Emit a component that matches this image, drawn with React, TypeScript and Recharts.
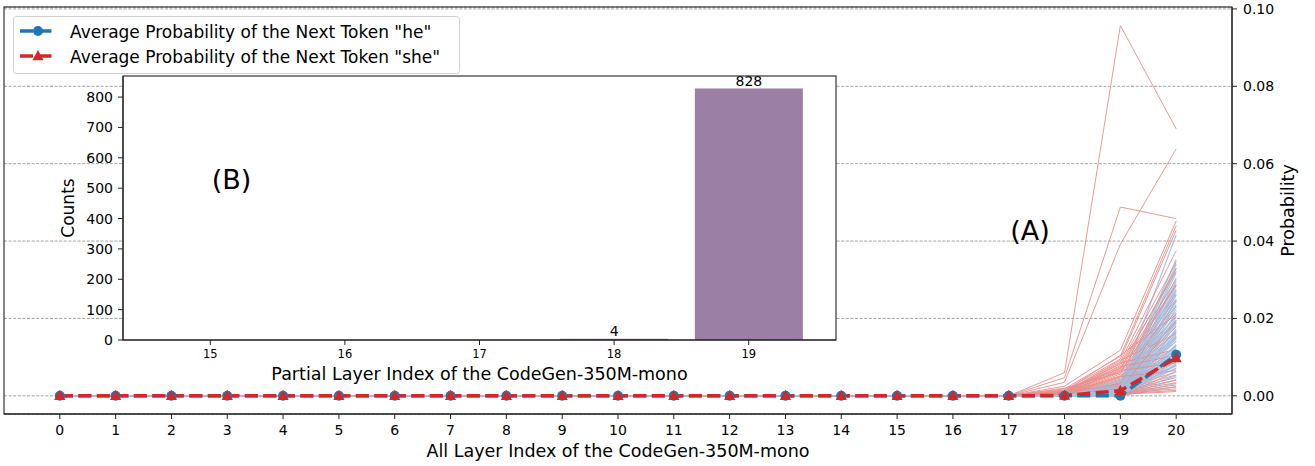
import React from 'react';
import { LineChart, Line, XAxis, YAxis, CartesianGrid, BarChart, Bar, LabelList } from 'recharts';

// ---------- data ----------
const layers = [0, 1, 2, 3, 4, 5, 6, 7, 8, 9, 10, 11, 12, 13, 14, 15, 16, 17, 18, 19, 20];
const heAverage = [0, 0, 0, 0, 0, 0, 0, 0, 0, 0, 0, 0, 0, 0, 0, 0, 0, 0, 0, 0.0000, 0.0106];
const sheAverage = [0, 0, 0, 0, 0, 0, 0, 0, 0, 0, 0, 0, 0, 0, 0, 0, 0, 0, 0.0001, 0.0013, 0.0098];
const probTicks = [0, 0.02, 0.04, 0.06, 0.08, 0.1];

// individual samples: values at layers 17, 18, 19, 20 (zero before layer 17)
const sampleStartLayer = 17;
const sheSamples: number[][] = [
  [0, 0.0060, 0.0957, 0.0690],
  [0, 0.0047, 0.0488, 0.0458],
  [0, 0.0035, 0.0392, 0.0638],
  [0, 0.0025, 0.0118, 0.0452],
  [0, 0.0018, 0.0102, 0.0440],
  [0, 0.0014, 0.0095, 0.0428],
  [0, 0.0011, 0.0088, 0.0375],
  [0, 0.0010, 0.0082, 0.0345],
  [0, 0.0009, 0.0078, 0.0322],
  [0, 0.0008, 0.0072, 0.0300],
  [0, 0.0007, 0.0068, 0.0288],
  [0, 0.0006, 0.0064, 0.0265],
  [0, 0.0006, 0.0060, 0.0250],
  [0, 0.0005, 0.0056, 0.0232],
  [0, 0.0005, 0.0052, 0.0218],
  [0, 0.0004, 0.0049, 0.0205],
  [0, 0.0004, 0.0046, 0.0190],
  [0, 0.0004, 0.0043, 0.0178],
  [0, 0.0003, 0.0040, 0.0165],
  [0, 0.0003, 0.0037, 0.0152],
  [0, 0.0003, 0.0034, 0.0140],
  [0, 0.0003, 0.0031, 0.0128],
  [0, 0.0002, 0.0029, 0.0118],
  [0, 0.0002, 0.0027, 0.0108],
  [0, 0.0002, 0.0025, 0.0098],
  [0, 0.0002, 0.0022, 0.0088],
  [0, 0.0002, 0.0020, 0.0078],
  [0, 0.0001, 0.0018, 0.0070],
  [0, 0.0001, 0.0016, 0.0062],
  [0, 0.0001, 0.0014, 0.0054],
  [0, 0.0001, 0.0012, 0.0047],
  [0, 0.0001, 0.0011, 0.0040],
  [0, 0.0001, 0.0009, 0.0034],
  [0, 0.0001, 0.0008, 0.0028],
  [0, 0.0001, 0.0007, 0.0023],
  [0, 0.0000, 0.0006, 0.0018],
  [0, 0.0000, 0.0005, 0.0014],
  [0, 0.0000, 0.0004, 0.0011],
  [0, 0.0012, 0.0105, 0.0210],
  [0, 0.0009, 0.0092, 0.0160],
  [0, 0.0008, 0.0085, 0.0120],
  [0, 0.0015, 0.0070, 0.0330],
  [0, 0.0020, 0.0060, 0.0285],
  [0, 0.0006, 0.0032, 0.0245],
  [0, 0.0004, 0.0018, 0.0195],
  [0, 0.0010, 0.0075, 0.0105],
  [0, 0.0007, 0.0065, 0.0085],
  [0, 0.0005, 0.0050, 0.0065],
];
const heSamples: number[][] = [
  [0, 0, 0.0030, 0.0416],
  [0, 0, 0.0025, 0.0352],
  [0, 0, 0.0020, 0.0340],
  [0, 0, 0.0008, 0.0330],
  [0, 0, 0.0015, 0.0318],
  [0, 0, 0.0005, 0.0305],
  [0, 0, 0.0012, 0.0295],
  [0, 0, 0.0003, 0.0285],
  [0, 0, 0.0010, 0.0272],
  [0, 0, 0.0002, 0.0260],
  [0, 0, 0.0007, 0.0248],
  [0, 0, 0.0001, 0.0236],
  [0, 0, 0.0004, 0.0225],
  [0, 0, 0.0001, 0.0214],
  [0, 0, 0.0006, 0.0203],
  [0, 0, 0.0002, 0.0192],
  [0, 0, 0.0001, 0.0182],
  [0, 0, 0.0003, 0.0172],
  [0, 0, 0.0001, 0.0162],
  [0, 0, 0.0002, 0.0152],
  [0, 0, 0.0001, 0.0142],
  [0, 0, 0.0000, 0.0132],
  [0, 0, 0.0002, 0.0122],
  [0, 0, 0.0001, 0.0112],
  [0, 0, 0.0000, 0.0102],
  [0, 0, 0.0001, 0.0092],
  [0, 0, 0.0000, 0.0082],
  [0, 0, 0.0001, 0.0072],
  [0, 0, 0.0000, 0.0062],
  [0, 0, 0.0000, 0.0052],
  [0, 0, 0.0000, 0.0042],
  [0, 0, 0.0000, 0.0032],
  [0, 0, 0.0000, 0.0024],
  [0, 0, 0.0040, 0.0275],
  [0, 0, 0.0035, 0.0195],
  [0, 0, 0.0022, 0.0232],
  [0, 0, 0.0018, 0.0210],
  [0, 0, 0.0013, 0.0188],
  [0, 0, 0.0009, 0.0168],
  [0, 0, 0.0006, 0.0148],
  [0, 0, 0.0004, 0.0128],
  [0, 0, 0.0002, 0.0108],
  [0, 0, 0.0001, 0.0088],
  [0, 0, 0.0028, 0.0262],
  [0, 0, 0.0016, 0.0244],
  [0, 0, 0.0011, 0.0156],
  [0, 0, 0.0005, 0.0118],
  [0, 0, 0.0003, 0.0078],
];

const partialLayers = ['15', '16', '17', '18', '19'];
const layerCounts = [0, 0, 0, 4, 828];
const countTicks = [0, 100, 200, 300, 400, 500, 600, 700, 800];

// ---------- derived tables ----------
const lineData = layers.map((layer, i) => {
  const row: Record<string, number> = { layer, he: heAverage[i], she: sheAverage[i] };
  sheSamples.forEach((s, k) => {
    row['r' + k] = i < sampleStartLayer ? 0 : s[i - sampleStartLayer];
  });
  heSamples.forEach((s, k) => {
    row['b' + k] = i < sampleStartLayer ? 0 : s[i - sampleStartLayer];
  });
  return row;
});
const barData = partialLayers.map((layer, i) => ({ layer, count: layerCounts[i] }));

const sampleKeys: { key: string; color: string; width: number }[] = [];
for (let k = 0; k < Math.max(sheSamples.length, heSamples.length); k++) {
  if (k < sheSamples.length) sampleKeys.push({ key: 'r' + k, color: '#e88e8c', width: 1 });
  if (k < heSamples.length) sampleKeys.push({ key: 'b' + k, color: '#9ec1e6', width: 1.3 });
}

const BLUE = '#1f77b4';
const RED = '#d62728';
const FONT = 'DejaVu Sans, Verdana, sans-serif';
const AXIS = '#222';
const probDomain: [number, number] = [-0.0047, 0.1005];
const countDomain: [number, number] = [0, 869.4];

const TriangleDot = (props: any) => {
  const { cx, cy } = props;
  if (cx == null || cy == null) return null;
  return (
    <path
      d={`M${cx},${cy - 6}L${cx + 5.6},${cy + 4.3}L${cx - 5.6},${cy + 4.3}Z`}
      fill={RED}
    />
  );
};

const CircleDot = (props: any) => {
  const { cx, cy } = props;
  if (cx == null || cy == null) return null;
  return <circle cx={cx} cy={cy} r={5} fill={BLUE} />;
};

export default function App() {
  return (
    <div
      style={{
        position: 'absolute',
        left: 0,
        top: 0,
        width: 1315,
        height: 466,
        background: '#fff',
        fontFamily: FONT,
        overflow: 'hidden',
      }}
    >
      {/* main chart */}
      <div style={{ position: 'absolute', left: 0, top: 0 }}>
        <LineChart
          width={1315}
          height={466}
          data={lineData}
          margin={{ top: 7, right: 0, bottom: 0, left: 4 }}
        >
          <CartesianGrid
            yAxisId="p"
            vertical={false}
            stroke="#8a8a8a"
            strokeWidth={0.8}
            strokeDasharray="3 1.6"
          />
          <XAxis
            dataKey="layer"
            type="number"
            domain={[-1, 21]}
            ticks={layers}
            interval={0}
            allowDataOverflow
            height={52}
            tickSize={5}
            tickMargin={6}
            tick={{ fontSize: 14, fill: '#000' }}
            axisLine={{ stroke: AXIS, strokeWidth: 1.1 }}
            tickLine={{ stroke: AXIS }}
          />
          <YAxis
            yAxisId="p"
            orientation="right"
            type="number"
            domain={probDomain}
            ticks={probTicks}
            allowDataOverflow
            width={83}
            tickSize={5}
            tickMargin={6}
            tickFormatter={(v: number) => v.toFixed(2)}
            tick={{ fontSize: 14, fill: '#000' }}
            axisLine={{ stroke: AXIS, strokeWidth: 1.1 }}
            tickLine={{ stroke: AXIS }}
          />
          {sampleKeys.map((s) => (
            <Line
              key={s.key}
              yAxisId="p"
              dataKey={s.key}
              stroke={s.color}
              strokeWidth={s.width}
              strokeOpacity={0.9}
              dot={false}
              activeDot={false}
              isAnimationActive={false}
              type="linear"
            />
          ))}
          <Line
            yAxisId="p"
            dataKey="he"
            stroke={BLUE}
            strokeWidth={3.5}
            strokeDasharray="13 5.5"
            dot={(p: any) => <CircleDot key={'he' + p.index} {...p} />}
            activeDot={false}
            isAnimationActive={false}
            type="linear"
          />
          <Line
            yAxisId="p"
            dataKey="she"
            stroke={RED}
            strokeWidth={3.5}
            strokeDasharray="13 5.5"
            dot={(p: any) => <TriangleDot key={'she' + p.index} {...p} />}
            activeDot={false}
            isAnimationActive={false}
            type="linear"
          />
        </LineChart>
      </div>

      {/* inset bar chart */}
      <div style={{ position: 'absolute', left: 40, top: 70 }}>
        <BarChart
          width={800}
          height={320}
          data={barData}
          margin={{ top: 6, right: 4, bottom: 0, left: 0 }}
          barCategoryGap="10%"
        >
          <CartesianGrid horizontal={false} vertical={false} fill="#fff" fillOpacity={1} />
          <XAxis
            dataKey="layer"
            padding={{ left: 20, right: 20 }}
            interval={0}
            height={50}
            tickSize={5}
            tickMargin={5}
            tick={{ fontSize: 11.5, fill: '#000' }}
            axisLine={{ stroke: AXIS, strokeWidth: 1.1 }}
            tickLine={{ stroke: AXIS }}
          />
          <YAxis
            type="number"
            domain={countDomain}
            ticks={countTicks}
            allowDataOverflow
            width={83}
            tickSize={5}
            tickMargin={5}
            tick={{ fontSize: 14, fill: '#000' }}
            axisLine={{ stroke: AXIS, strokeWidth: 1.1 }}
            tickLine={{ stroke: AXIS }}
          />
          <Bar dataKey="count" fill="#9b7fa5" isAnimationActive={false}>
            <LabelList
              dataKey="count"
              position="top"
              offset={3}
              formatter={(v: any) => (Number(v) > 0 ? String(v) : '')}
              style={{ fontSize: 14, fill: '#000' }}
            />
          </Bar>
        </BarChart>
      </div>

      {/* frames, titles, annotations and legend */}
      <svg
        width={1315}
        height={466}
        style={{ position: 'absolute', left: 0, top: 0, pointerEvents: 'none' }}
        fontFamily={FONT}
      >
        <rect x={4} y={7} width={1228} height={407} fill="none" stroke={AXIS} strokeWidth={1.1} />
        <rect x={123} y={76} width={713} height={264} fill="none" stroke={AXIS} strokeWidth={1.1} />

        <text x={618} y={457} textAnchor="middle" fontSize={17.5} fill="#000">
          All Layer Index of the CodeGen-350M-mono
        </text>
        <text
          x={1294}
          y={210.5}
          textAnchor="middle"
          fontSize={17.5}
          fill="#000"
          transform="rotate(-90 1294 210.5)"
        >
          Probability
        </text>
        <text x={479.5} y={380} textAnchor="middle" fontSize={17.5} fill="#000">
          Partial Layer Index of the CodeGen-350M-mono
        </text>
        <text
          x={74}
          y={208}
          textAnchor="middle"
          fontSize={17}
          fill="#000"
          transform="rotate(-90 74 208)"
        >
          Counts
        </text>
        <text x={231.5} y={189} textAnchor="middle" fontSize={27} fill="#000">
          (B)
        </text>
        <text x={1030} y={240} textAnchor="middle" fontSize={27} fill="#000">
          (A)
        </text>

        <rect
          x={13.5}
          y={16.5}
          width={446}
          height={57}
          rx={3}
          fill="#fff"
          fillOpacity={0.8}
          stroke="#d0d0d0"
        />
        <line x1={20} x2={56} y1={31} y2={31} stroke={BLUE} strokeWidth={3.5} strokeDasharray="13 5.5" />
        <circle cx={38} cy={31} r={5} fill={BLUE} />
        <text x={70} y={37.5} fontSize={17} fill="#000">
          Average Probability of the Next Token "he"
        </text>
        <line x1={20} x2={56} y1={56} y2={56} stroke={RED} strokeWidth={3.5} strokeDasharray="13 5.5" />
        <path d="M38,50L43.6,60.3L32.4,60.3Z" fill={RED} />
        <text x={70} y={62.5} fontSize={17} fill="#000">
          Average Probability of the Next Token "she"
        </text>
      </svg>
    </div>
  );
}
